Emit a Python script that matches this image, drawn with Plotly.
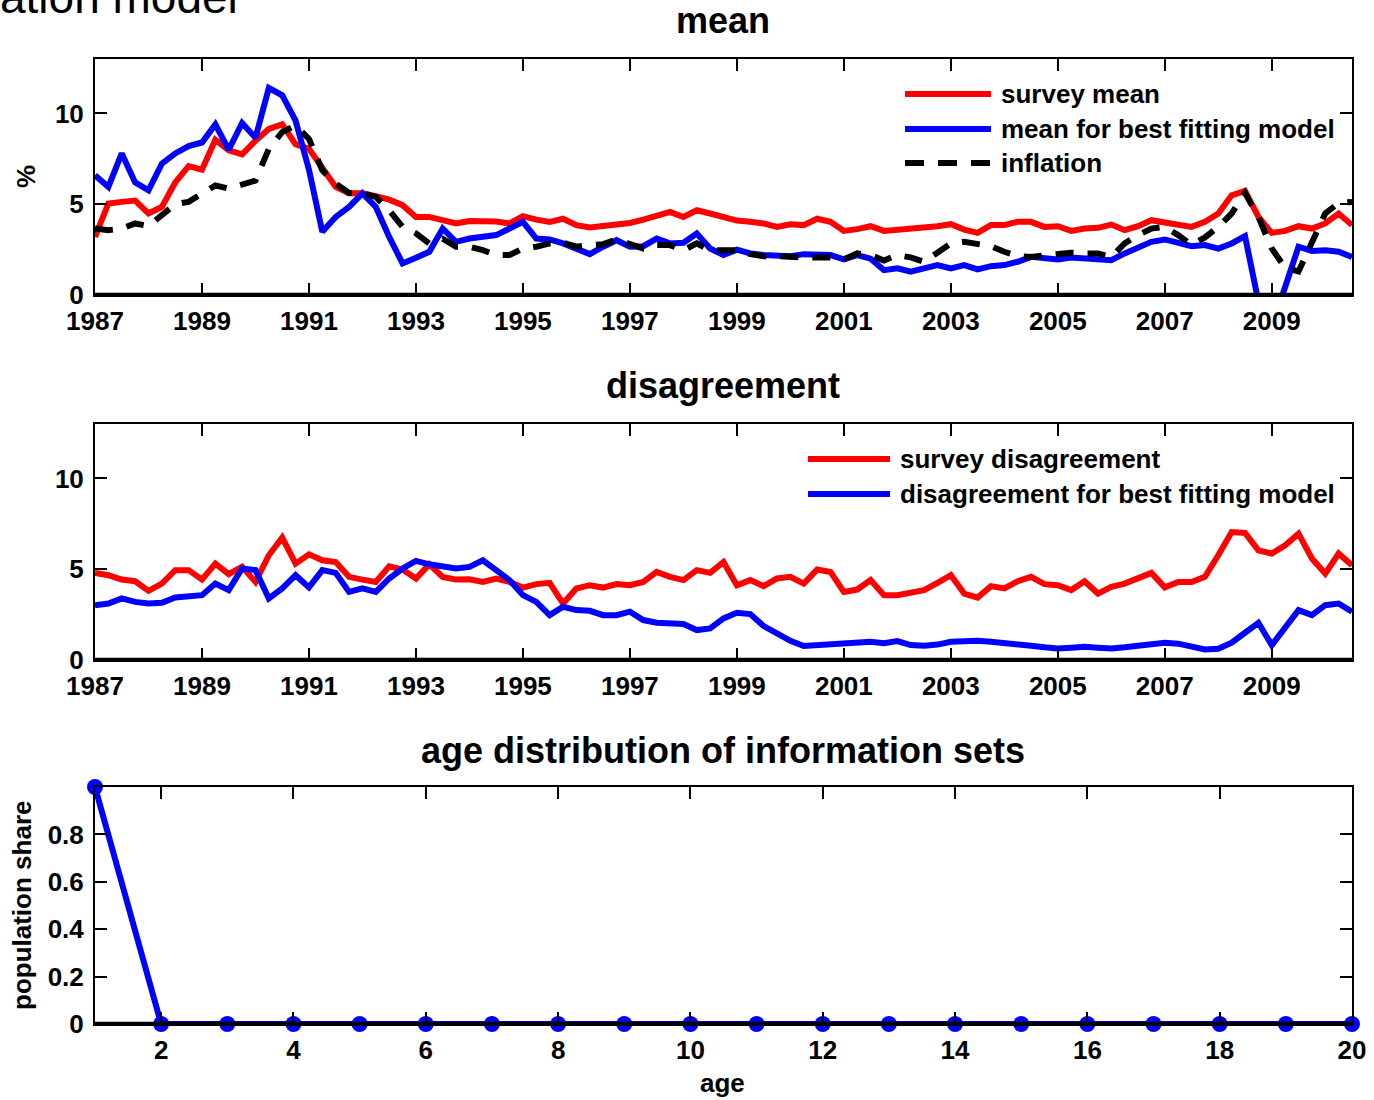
import plotly.graph_objects as go

# ---------------- data ----------------
years = [1987 + i / 4 for i in range(95)]

survey_mean = [3.2, 5.04, 5.13, 5.2, 4.5, 4.85, 6.2, 7.1, 6.9, 8.55,
               7.97, 7.75, 8.5, 9.15, 9.4, 8.3, 8.05, 6.95, 5.95, 5.6,
               5.6, 5.45, 5.25, 4.95, 4.3, 4.3, 4.15, 3.94, 4.08, 4.08,
               4.05, 3.94, 4.34, 4.15, 4.03, 4.2, 3.85, 3.72, 3.8, 3.9,
               3.97, 4.15, 4.4, 4.58, 4.3, 4.67, 4.49, 4.3, 4.1, 4.03,
               3.94, 3.75, 3.9, 3.85, 4.2, 4.03, 3.53, 3.63, 3.79, 3.53,
               3.6, 3.66, 3.66, 3.79, 3.9, 3.6, 3.42, 3.85, 3.85, 4.03,
               4.03, 3.75, 3.79, 3.53, 3.66, 3.7, 3.88, 3.57, 3.79, 4.12,
               3.99, 3.9, 3.75, 4.03, 4.49, 5.49, 5.73, 4.3, 3.42, 3.53,
               3.79, 3.66, 3.94, 4.49, 3.85]

model_mean = [6.6, 5.95, 7.8, 6.2, 5.77, 7.23, 7.8, 8.2, 8.4, 9.4,
              8.0, 9.47, 8.66, 11.4, 11.0, 9.6, 6.9, 3.48, 4.3, 4.85,
              5.6, 4.85, 3.2, 1.74, 2.05, 2.38, 3.66, 2.93, 3.11, 3.2,
              3.3, 3.66, 4.03, 3.11, 3.06, 2.84, 2.56, 2.25, 2.66, 3.02,
              2.66, 2.69, 3.11, 2.84, 2.88, 3.39, 2.56, 2.2, 2.5, 2.29,
              2.2, 2.2, 2.14, 2.25, 2.2, 2.2, 1.96, 2.2, 2.0, 1.37,
              1.47, 1.28, 1.47, 1.65, 1.47, 1.65, 1.41, 1.59, 1.65, 1.83,
              2.1, 2.05, 1.96, 2.07, 2.0, 1.96, 1.92, 2.29, 2.62, 2.93,
              3.06, 2.84, 2.69, 2.75, 2.56, 2.84, 3.24, -0.36, -1.76, 0.44,
              2.66, 2.43, 2.47, 2.38, 2.1]

inflation = [3.66, 3.57, 3.66, 3.94, 3.8, 4.4, 5.0, 5.13, 5.6, 6.04,
             5.86, 6.1, 6.3, 8.06, 8.97, 9.34, 8.6, 6.87, 6.13, 5.62,
             5.6, 5.4, 4.67, 3.75, 3.4, 2.84, 3.1, 2.66, 2.66, 2.47,
             2.2, 2.2, 2.56, 2.66, 2.84, 2.88, 2.66, 2.75, 2.8, 3.06,
             2.84, 2.56, 2.75, 2.75, 2.47, 2.84, 2.47, 2.44, 2.47, 2.25,
             2.14, 2.14, 2.07, 2.07, 2.07, 2.07, 1.96, 2.29, 2.2, 1.9,
             2.2, 2.07, 1.83, 2.38, 2.84, 2.93, 2.84, 2.69, 2.38, 2.14,
             2.1, 2.2, 2.25, 2.33, 2.29, 2.29, 2.1, 2.84, 3.3, 3.66,
             3.75, 3.3, 2.75, 3.17, 3.75, 4.49, 5.62, 4.3, 2.56, 1.5,
             1.3, 2.84, 4.49, 5.07, 5.13]

survey_disagreement = [4.8, 4.67, 4.43, 4.34, 3.81, 4.21, 4.95, 4.95, 4.43, 5.31,
                       4.73, 5.13, 4.3, 5.77, 6.74, 5.31, 5.82, 5.49, 5.4, 4.58,
                       4.43, 4.3, 5.16, 4.98, 4.49, 5.27, 4.58, 4.43, 4.45, 4.3,
                       4.49, 4.3, 3.99, 4.18, 4.25, 3.11, 3.94, 4.12, 3.99, 4.18,
                       4.12, 4.3, 4.85, 4.58, 4.4, 4.95, 4.8, 5.4, 4.12, 4.4,
                       4.07, 4.49, 4.58, 4.21, 4.98, 4.85, 3.75, 3.88, 4.4, 3.57,
                       3.57, 3.75, 3.85, 4.25, 4.67, 3.66, 3.44, 4.07, 3.94, 4.34,
                       4.58, 4.18, 4.12, 3.85, 4.34, 3.66, 4.03, 4.21, 4.49, 4.8,
                       4.0, 4.3, 4.3, 4.58, 5.77, 7.05, 7.0, 6.04, 5.86, 6.32,
                       6.96, 5.59, 4.76, 5.86, 5.22]

model_disagreement = [3.02, 3.11, 3.39, 3.2, 3.11, 3.15, 3.44, 3.52, 3.57, 4.21,
                      3.85, 5.04, 4.95, 3.39, 3.94, 4.67, 4.0, 4.95, 4.8, 3.75,
                      3.94, 3.75, 4.49, 5.04, 5.46, 5.27, 5.13, 5.04, 5.13, 5.49,
                      4.95, 4.4, 3.57, 3.2, 2.47, 2.93, 2.75, 2.71, 2.47, 2.47,
                      2.66, 2.2, 2.05, 1.98, 1.98, 1.65, 1.74, 2.29, 2.6, 2.53,
                      1.87, 1.47, 1.06, 0.77, 0.82, 0.82, 0.88, 0.95, 1.0, 0.92,
                      1.04, 0.82, 0.78, 0.85, 1.0, 1.03, 1.06, 1.0, 0.95, 0.85,
                      0.78, 0.7, 0.64, 0.68, 0.73, 0.68, 0.64, 0.7, 0.77, 0.92,
                      0.95, 0.9, 0.7, 0.58, 0.62, 0.95, 1.5, 2.05, 0.82, 1.8,
                      2.75, 2.47, 3.02, 3.11, 2.66]

ages = list(range(1, 21))
age_share = [1.0] + [0.0] * 19

year_ticks = [1987, 1989, 1991, 1993, 1995, 1997, 1999, 2001, 2003, 2005, 2007, 2009]
pct_ticks = [0, 5, 10]
age_ticks = [2, 4, 6, 8, 10, 12, 14, 16, 18, 20]
share_ticks = [0, 0.2, 0.4, 0.6, 0.8]

# ---------------- styling ----------------
W, H = 1374, 1100
FONT = "Liberation Sans, Arial, Helvetica, sans-serif"
RED, BLUE, BLACK = "#ff0000", "#0000ff", "#000000"
LW = 6
DASH = "18px,14px"
TICK_FONT = dict(family=FONT, size=26, color=BLACK, weight="bold")


def px(x):
    return x / W


def py(y):
    return 1 - y / H


XL, XR = 95, 1352
panels = [(59, 295), (424, 660), (787, 1024)]

fig = go.Figure()

fig.add_trace(go.Scatter(x=years, y=survey_mean, mode="lines", name="survey mean",
                         line=dict(color=RED, width=LW), xaxis="x", yaxis="y"))
fig.add_trace(go.Scatter(x=years, y=model_mean, mode="lines", name="mean for best fitting model",
                         line=dict(color=BLUE, width=LW), xaxis="x", yaxis="y"))
fig.add_trace(go.Scatter(x=years, y=inflation, mode="lines", name="inflation",
                         line=dict(color=BLACK, width=LW, dash=DASH), xaxis="x", yaxis="y"))

fig.add_trace(go.Scatter(x=years, y=survey_disagreement, mode="lines", name="survey disagreement",
                         line=dict(color=RED, width=LW), xaxis="x2", yaxis="y2"))
fig.add_trace(go.Scatter(x=years, y=model_disagreement, mode="lines",
                         name="disagreement for best fitting model",
                         line=dict(color=BLUE, width=LW), xaxis="x2", yaxis="y2"))

fig.add_trace(go.Scatter(x=ages, y=age_share, mode="lines+markers", name="age distribution",
                         line=dict(color=BLUE, width=LW),
                         marker=dict(color=BLUE, size=16), cliponaxis=False,
                         xaxis="x3", yaxis="y3"))

axis_common = dict(showline=True, linecolor=BLACK, linewidth=2, mirror="ticks",
                   ticks="inside", ticklen=12, tickwidth=1.5, tickcolor=BLACK,
                   showgrid=False, zeroline=False, layer="above traces",
                   automargin=False, tickfont=TICK_FONT)

layout = dict(width=W, height=H, margin=dict(l=0, r=0, t=0, b=0, autoexpand=False),
              paper_bgcolor="white", plot_bgcolor="white", showlegend=False,
              font=dict(family=FONT, color=BLACK))

for k, (yt, yb) in enumerate(panels):
    sx = "" if k == 0 else str(k + 1)
    layout["xaxis" + sx] = dict(axis_common, domain=[px(XL), px(XR)], anchor="y" + sx,
                                ticklabelstandoff=2)
    layout["yaxis" + sx] = dict(axis_common, domain=[py(yb), py(yt)], anchor="x" + sx,
                                ticklabelstandoff=4)

layout["xaxis"].update(range=[1987, 2010.5], tickvals=year_ticks)
layout["yaxis"].update(range=[0, 13], tickvals=pct_ticks)
layout["xaxis2"].update(range=[1987, 2010.5], tickvals=year_ticks)
layout["yaxis2"].update(range=[0, 13], tickvals=pct_ticks)
layout["xaxis3"].update(range=[1, 20], tickvals=age_ticks)
layout["yaxis3"].update(range=[0, 1.0], tickvals=share_ticks,
                        ticktext=["0", "0.2", "0.4", "0.6", "0.8"])

fig.update_layout(**layout)

shapes = []
# thick baseline at zero in each panel
for sx in ["", "2", "3"]:
    shapes.append(dict(type="line", xref=("x" + sx + " domain"), yref=("y" + sx),
                       x0=0, x1=1, y0=0, y1=0, line=dict(color=BLACK, width=4.5), layer="above"))

annotations = []


def text(x, y, s, size, xanchor="center", angle=0):
    annotations.append(dict(x=px(x), y=py(y), xref="paper", yref="paper", text=s,
                            showarrow=False, xanchor=xanchor, yanchor="middle",
                            textangle=angle,
                            font=dict(family=FONT, size=size, color=BLACK, weight="bold")))


# manual legends
def legend_row(x0, x1, y, color, label, dash=None):
    ln = dict(color=color, width=LW)
    if dash:
        ln["dash"] = dash
    shapes.append(dict(type="line", xref="paper", yref="paper", x0=px(x0), x1=px(x1),
                       y0=py(y), y1=py(y), line=ln))
    text(x1 + 8, y, label, 26, xanchor="left")


legend_row(905, 991, 94, RED, "survey mean")
legend_row(905, 991, 129, BLUE, "mean for best fitting model")
legend_row(905, 991, 163, BLACK, "inflation", dash="19px,14px")
legend_row(808, 890, 459, RED, "survey disagreement")
legend_row(808, 890, 494, BLUE, "disagreement for best fitting model")

# titles
text(723, 20, "mean", 36)
text(723, 385, "disagreement", 36)
text(723, 750, "age distribution of information sets", 36)

# axis labels
text(26, 177, "%", 26, angle=-90)
text(22, 906, "population share", 26, angle=-90)
text(722, 1083, "age", 26)

# cut-off super-title at the top-left corner
annotations.append(dict(x=px(240), y=1 + 3 / H, xref="paper", yref="paper", text="ation model",
                        showarrow=False, xanchor="right", yanchor="middle",
                        font=dict(family=FONT, size=46, color=BLACK)))

fig.update_layout(shapes=shapes, annotations=annotations)

fig.write_html("out.html")
